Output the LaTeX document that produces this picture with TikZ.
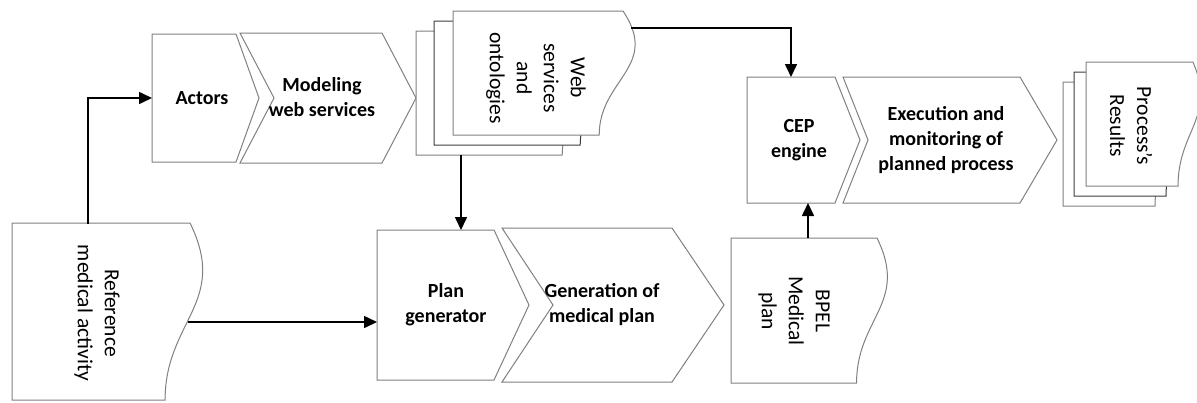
\documentclass[tikz,border=0pt]{standalone}
\usepackage{fontspec}
\setmainfont{Carlito}
\usetikzlibrary{arrows.meta}
\definecolor{boxgray}{RGB}{128,128,128}
\definecolor{sheetdark}{RGB}{60,60,60}

% Document sheet with a wavy right edge: style, x, y, width, height
\newcommand\docsheet[5]{%
  \path[#1] (#2,#3) -- ({#2+#4},#3)
    .. controls ({#2+1.22*#4},{#3+0.45*#5}) and ({#2+0.86*#4},{#3+0.55*#5})
    .. ({#2+0.86*#4},{#3+#5}) -- (#2,{#3+#5}) -- cycle;}

\begin{document}
\begin{tikzpicture}[x=1pt,y=-1pt,
  outline/.style={draw=boxgray, line width=1pt, fill=white, line join=miter},
  backsheet/.style={draw=sheetdark, line width=1pt, fill=white},
  flow/.style={draw=black, line width=1.6pt, -{Triangle[length=13pt,width=12pt]}},
  hlabel/.style={font=\fontsize{20}{25}\selectfont\bfseries, align=center, text=black, inner sep=0pt},
  vlabel/.style={font=\fontsize{21.5}{27}\selectfont, align=center, rotate=-90, text=black, inner sep=0pt}]

\useasboundingbox (0,0) rectangle (1197,402);

% reference document
\docsheet{outline}{12}{223}{178}{177}
\node[vlabel] (refText) at (97,313) {Reference\\medical activity};

% actors and modelling step
\path[outline] (152,34) -- (236,34) -- (259,98) -- (236,162) -- (152,162) -- cycle;
\node[hlabel] (actors) at (202,98) {Actors};
\path[outline] (240,33) -- (382,33) -- (416,98) -- (382,163) -- (240,163) -- (274,98) -- cycle;
\node[hlabel] (modeling) at (322,97) {Modeling\\web services};

% stack of web service / ontology documents
\docsheet{outline}{416}{31}{170}{124}
\docsheet{backsheet}{434}{21}{170}{124}
\docsheet{outline}{453}{11}{170}{124}
\node[vlabel] (wsText) at (536,78) {Web\\services\\and\\ontologies};

% plan generation
\path[outline] (377,230) -- (494,230) -- (529,305) -- (494,380) -- (377,380) -- cycle;
\node[hlabel] (plangen) at (446,305) {Plan\\generator};
\path[outline] (502,228) -- (672,228) -- (724,305) -- (672,382) -- (502,382) -- (553,305) -- cycle;
\node[hlabel] (generation) at (602,305) {Generation of\\medical plan};

% BPEL plan document
\docsheet{outline}{731}{238}{146}{145}
\node[vlabel] (bpelText) at (794,311) {BPEL\\Medical\\plan};

% execution
\path[outline] (747,77) -- (835,77) -- (860,140) -- (835,203) -- (747,203) -- cycle;
\node[hlabel] (cep) at (799,140) {CEP\\engine};
\path[outline] (843,77) -- (1020,77) -- (1057,140) -- (1020,203) -- (843,203) -- (868,140) -- cycle;
\node[hlabel] (execution) at (946,140) {Execution and\\monitoring of\\planned process};

% stack of result documents
\docsheet{outline}{1063}{82}{107}{124}
\docsheet{backsheet}{1074}{72}{107}{124}
\docsheet{outline}{1086}{62}{107}{124}
\node[vlabel] (resText) at (1131,126) {Process’s\\Results};

% connector end points
\coordinate (refTop) at (88,224);
\coordinate (refRight) at (188,322);
\coordinate (actorsIn) at (152,98);
\coordinate (planIn) at (377,322);
\coordinate (wsBottom) at (461,155);
\coordinate (planTop) at (461,230);
\coordinate (wsRight) at (631,28);
\coordinate (cepTop) at (791,77);
\coordinate (bpelTop) at (808,238);
\coordinate (cepBottom) at (808,203);

\draw[flow] (refTop) |- (actorsIn);
\draw[flow] (refRight) -- (planIn);
\draw[flow] (wsBottom) -- (planTop);
\draw[flow] (wsRight) -| (cepTop);
\draw[flow] (bpelTop) -- (cepBottom);
\end{tikzpicture}
\end{document}
